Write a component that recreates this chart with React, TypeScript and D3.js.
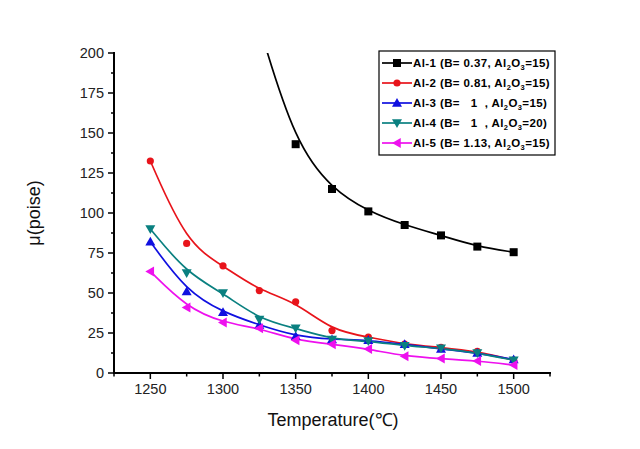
import { useEffect } from "react";
import * as d3 from "d3";

const temps = [1250, 1275, 1300, 1325, 1350, 1375, 1400, 1425, 1450, 1475, 1500];

// Al-1: values at 1300/1325 are above the chart and get clipped
const al1Temps = [1300, 1325, 1350, 1375, 1400, 1425, 1450, 1475, 1500];
const al1 = [300, 215, 143, 115, 101, 92.5, 86, 79, 75.5];
const al2 = [132.5, 81, 67, 51.5, 44.5, 26.5, 22.5, 18, 16, 13.5, 8];
const al3 = [82, 51, 38, 30, 23, 21, 20.5, 18, 15, 12.5, 8.5];
const al4 = [90, 62.5, 50, 33.5, 28, 21, 20, 17, 15.5, 12.5, 8];
const al5 = [63.5, 41, 31.5, 28, 20.5, 18, 15, 10.5, 9, 7.5, 5];

const seriesNames = ["Al-1", "Al-2", "Al-3", "Al-4", "Al-5"];
const seriesB = ["0.37", "0.81", "  1  ", "  1  ", "1.13"];
const seriesAl2O3 = ["15", "15", "15", "20", "15"];
const seriesColors = ["#000000", "#e8141b", "#1010e0", "#0a8080", "#ee10ee"];
const seriesMarkers = ["square", "circle", "up", "down", "left"];

const xTicks = [1250, 1300, 1350, 1400, 1450, 1500];
const xMinor = [1225, 1275, 1325, 1375, 1425, 1475, 1525];
const yTicks = [0, 25, 50, 75, 100, 125, 150, 175, 200];
const yMinor = [12.5, 37.5, 62.5, 87.5, 112.5, 137.5, 162.5, 187.5];

const W = 640;
const H = 449;
const m = { left: 114, right: 90, top: 53, bottom: 76 };

function Marker({ kind, x, y, color }: { kind: string; x: number; y: number; color: string }) {
  const s = 4;
  if (kind === "square")
    return <rect x={x - s} y={y - s} width={2 * s} height={2 * s} fill={color} />;
  if (kind === "circle") return <circle cx={x} cy={y} r={3.6} fill={color} />;
  let pts: [number, number][] = [];
  const r = 5;
  if (kind === "up") pts = [[x, y - r], [x + r, y + r * 0.75], [x - r, y + r * 0.75]];
  if (kind === "down") pts = [[x, y + r], [x + r, y - r * 0.75], [x - r, y - r * 0.75]];
  if (kind === "left") pts = [[x - r, y], [x + r * 0.75, y - r], [x + r * 0.75, y + r]];
  return <polygon points={pts.map((p) => p.join(",")).join(" ")} fill={color} />;
}

export default function App() {
  useEffect(() => {
    document.body.style.margin = "0";
  }, []);

  const x = d3.scaleLinear().domain([1225, 1525]).range([m.left, W - m.right]);
  const y = d3.scaleLinear().domain([0, 200]).range([H - m.bottom, m.top]);

  const allSeries = [
    { t: al1Temps, v: al1 },
    { t: temps, v: al2 },
    { t: temps, v: al3 },
    { t: temps, v: al4 },
    { t: temps, v: al5 },
  ];

  const line = d3
    .line<[number, number]>()
    .x((d) => x(d[0]))
    .y((d) => y(d[1]))
    .curve(d3.curveBasis);

  const font = "'Liberation Sans', Arial, sans-serif";
  const y0 = H - m.bottom;
  const legendX = 379;
  const legendY = 51;

  return (
    <svg width={W} height={H} style={{ display: "block", background: "#fff" }} fontFamily={font}>
      <defs>
        <clipPath id="plot">
          <rect x={m.left} y={m.top} width={W - m.left - m.right} height={y0 - m.top} />
        </clipPath>
      </defs>

      {/* curves */}
      <g clipPath="url(#plot)">
        {allSeries.map((s, i) => (
          <path
            key={i}
            d={line(s.t.map((t, j) => [t, s.v[j]] as [number, number])) || ""}
            fill="none"
            stroke={seriesColors[i]}
            strokeWidth={1.7}
          />
        ))}
        {allSeries.map((s, i) =>
          s.t.map((t, j) =>
            s.v[j] <= 200 ? (
              <Marker key={`${i}-${j}`} kind={seriesMarkers[i]} x={x(t)} y={y(s.v[j])} color={seriesColors[i]} />
            ) : null
          )
        )}
      </g>

      {/* axes */}
      <line x1={m.left} x2={m.left} y1={m.top - 1} y2={y0 + 1} stroke="#000" strokeWidth={2} />
      <line x1={m.left - 1} x2={W - m.right + 1} y1={y0} y2={y0} stroke="#000" strokeWidth={2} />
      {yTicks.map((t) => (
        <g key={t}>
          <line x1={m.left - 6} x2={m.left} y1={y(t)} y2={y(t)} stroke="#000" strokeWidth={1.5} />
          <text x={m.left - 10} y={y(t)} dy="0.35em" textAnchor="end" fontSize={14.5} fill="#222">
            {t}
          </text>
        </g>
      ))}
      {yMinor.map((t) => (
        <line key={t} x1={m.left - 3} x2={m.left} y1={y(t)} y2={y(t)} stroke="#000" strokeWidth={1.5} />
      ))}
      {xTicks.map((t) => (
        <g key={t}>
          <line x1={x(t)} x2={x(t)} y1={y0} y2={y0 + 6} stroke="#000" strokeWidth={1.5} />
          <text x={x(t)} y={y0 + 21} textAnchor="middle" fontSize={14.5} fill="#222">
            {t}
          </text>
        </g>
      ))}
      {xMinor.map((t) => (
        <line key={t} x1={x(t)} x2={x(t)} y1={y0} y2={y0 + 3.5} stroke="#000" strokeWidth={1.5} />
      ))}

      {/* axis titles */}
      <text x={333} y={426} textAnchor="middle" fontSize={18} fill="#111">
        Temperature(℃)
      </text>
      <text
        transform={`translate(40,${(m.top + y0) / 2}) rotate(-90)`}
        textAnchor="middle"
        fontSize={18}
        fill="#111"
      >
        μ(poise)
      </text>

      {/* legend */}
      <rect x={legendX} y={legendY} width={176} height={104} fill="#fff" stroke="#000" strokeWidth={1.2} />
      {seriesNames.map((n, i) => {
        const ly = legendY + 12 + i * 20;
        return (
          <g key={n}>
            <line x1={legendX + 3} x2={legendX + 33} y1={ly} y2={ly} stroke={seriesColors[i]} strokeWidth={1.7} />
            <Marker kind={seriesMarkers[i]} x={legendX + 18} y={ly} color={seriesColors[i]} />
            <text
              x={legendX + 34}
              y={ly}
              dy="0.35em"
              fontSize={11.5}
              fontWeight="bold"
              fill="#000"
              letterSpacing={0.4}
              style={{ whiteSpace: "pre" }}
            >
              {`${n} (B= ${seriesB[i]}, Al`}
              <tspan fontSize={7.5} dy={3}>2</tspan>
              <tspan dy={-3}>O</tspan>
              <tspan fontSize={7.5} dy={3}>3</tspan>
              <tspan dy={-3}>{`=${seriesAl2O3[i]})`}</tspan>
            </text>
          </g>
        );
      })}
    </svg>
  );
}
